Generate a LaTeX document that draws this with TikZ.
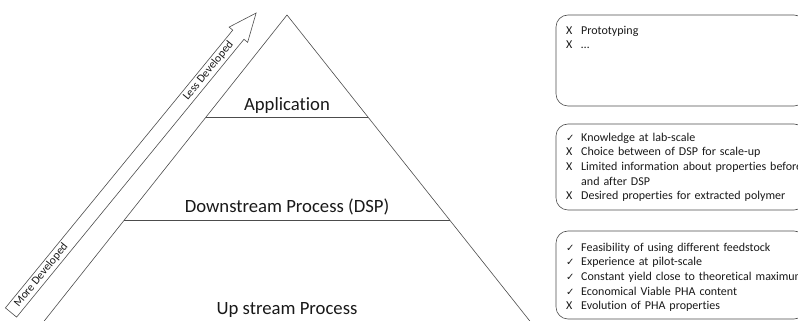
\documentclass[tikz,border=0pt]{standalone}
\usepackage{fontspec}
\setmainfont[Ligatures=NoCommon]{Carlito}
\newfontfamily\symfont{DejaVu Sans}
\usetikzlibrary{calc}
\newcommand{\mkck}{\makebox[15pt][l]{{\symfont\fontsize{10}{10}\selectfont ✓}}}
\newcommand{\mkxx}{\makebox[15pt][l]{X}}
\newcommand{\mkcont}{\hspace*{15pt}}
\begin{document}
\begin{tikzpicture}[x=1pt,y=1pt,
  ln/.style={draw=black!70, line width=0.6pt},
  boxtext/.style={anchor=north west, inner sep=0pt, text width=320pt, align=left, font=\fontsize{12}{14.7}\selectfont, text=black!90},
  lvl/.style={anchor=base, inner sep=0pt, font=\fontsize{18.7}{22}\selectfont, text=black!90},
  arrtext/.style={inner sep=0pt, font=\fontsize{11.5}{13}\selectfont, text=black!90, rotate=50.7},
  infobox/.style={ln, rounded corners=12pt}
]
\useasboundingbox (0,0) rectangle (798,321);
\clip (0,0) rectangle (798,321);
% pyramid
\coordinate (apex) at (287,306);
\coordinate (bl) at (44.2,0);
\coordinate (br) at (529.8,0);
\draw[ln] ($(apex)!1.02!(bl)$) -- (apex) -- ($(apex)!1.02!(br)$);
\draw[ln] ($(apex)!1/3!(bl)$) -- ($(apex)!1/3!(br)$);
\draw[ln] ($(apex)!0.67!(bl)$) -- ($(apex)!0.67!(br)$);
\node[lvl] (app) at (287,210) {Application};
\node[lvl] (dsp) at (287,108) {Downstream Process (DSP)};
\node[lvl] (usp) at (287,6) {Up stream Process};
% arrow
\begin{scope}[shift={(11,8.5)}, rotate=50.7]
\draw[ln, line join=miter] (0,-7.25) -- (359,-7.25) -- (359,-12) -- (387,0) -- (359,12) -- (359,7.25) -- (0,7.25) -- cycle;
\node[arrtext] (more) at (48,0.3) {More Developed};
\node[arrtext] (less) at (312,0.3) {Less Developed};
\end{scope}
% boxes
\draw[infobox] (556,215) rectangle (806,306);
\draw[infobox] (556,111) rectangle (806,197);
\draw[infobox] (556,2) rectangle (806,90);
\node[boxtext] (t1) at (566,297.3) {\strut\mkxx Prototyping\\
\mkxx …};
\node[boxtext] (t2) at (566,190.3) {\strut\mkck Knowledge at lab-scale\\
\mkxx Choice between of DSP for scale-up\\
\mkxx Limited information about properties before\\
\mkcont and after DSP\\
\mkxx Desired properties for extracted polymer};
\node[boxtext] (t3) at (566,80.3) {\strut\mkck Feasibility of using different feedstock\\
\mkck Experience at pilot-scale\\
\mkck Constant yield close to theoretical maximum\\
\mkck Economical Viable PHA content\\
\mkxx Evolution of PHA properties};
\end{tikzpicture}
\end{document}
